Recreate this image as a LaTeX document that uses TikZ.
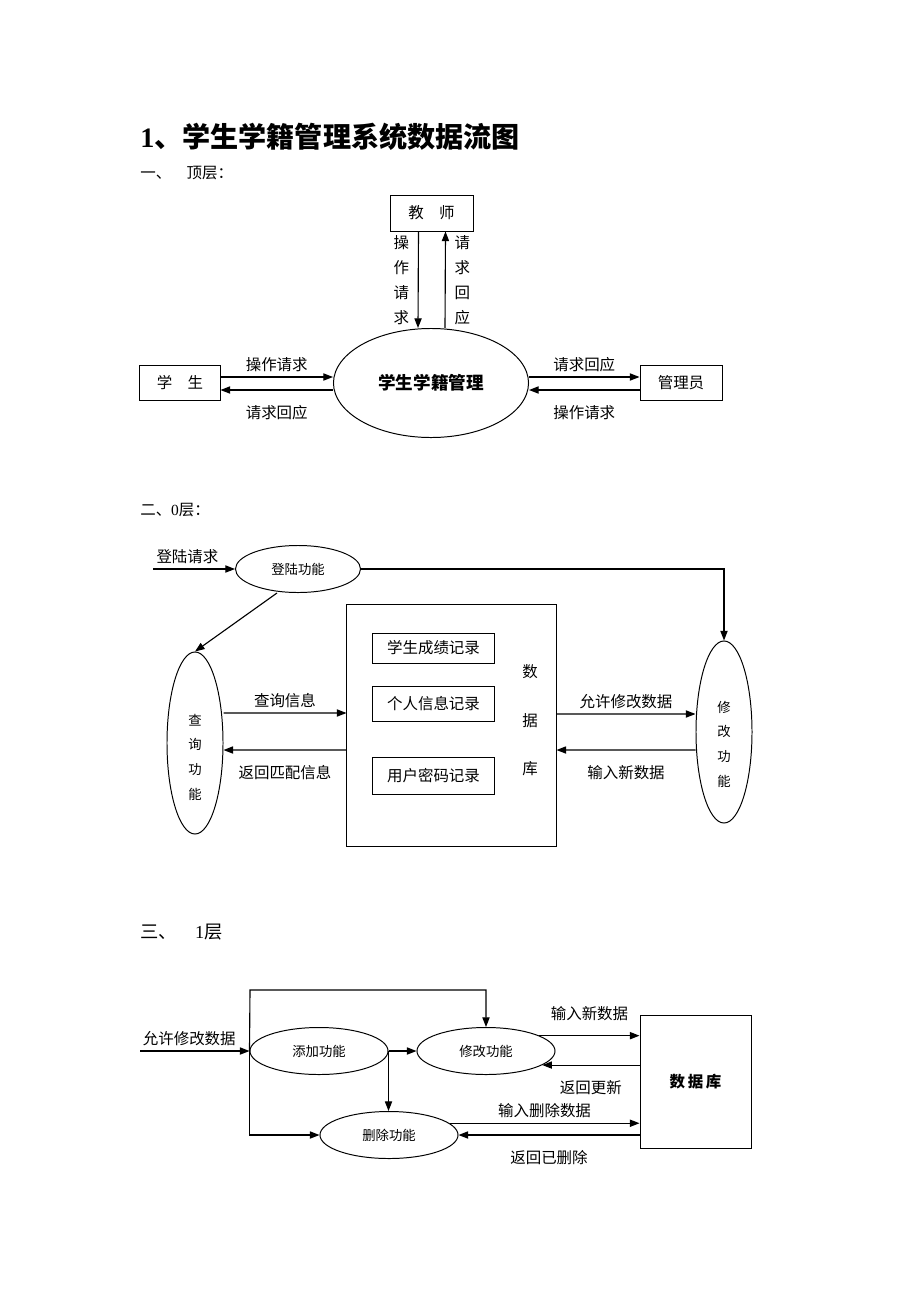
\documentclass[tikz,border=0pt]{standalone}
\usepackage{fontspec}
\setmainfont{Liberation Serif}
\newfontfamily\cjk{Noto Sans CJK SC}
\usepackage{tikz}
\usetikzlibrary{arrows.meta,shapes.geometric}

\tikzset{
  flow/.style={-{Triangle[length=2.4mm,width=1.8mm]},line width=0.8pt},
  proc/.style={ellipse,draw,line width=0.7pt,inner sep=0pt},
  store/.style={rectangle,draw,line width=0.7pt,inner sep=0pt},
  txt/.style={font=\cjk\fontsize{11}{13}\selectfont},
  smalltxt/.style={font=\cjk\fontsize{9.5}{11}\selectfont},
  coltxt/.style={align=center,font=\cjk\fontsize{11}{17.8}\selectfont},
  heading/.style={anchor=west,inner sep=0pt},
}

\begin{document}
\begin{tikzpicture}[x=0.025cm,y=-0.025cm]
\useasboundingbox[fill=white] (0,0) rectangle (920,1302);

\node[heading,font=\cjk\bfseries\fontsize{20}{24}\selectfont] (title) at (140,137) {{\rmfamily 1}、学生学籍管理系统数据流图};
\node[heading,font=\cjk\fontsize{11}{13}\selectfont] (head1) at (140,173) {一、\quad 顶层：};
\node[heading,font=\cjk\fontsize{11}{13}\selectfont] (head2) at (140,510) {二、{\rmfamily 0}层：};
\node[heading,font=\cjk\fontsize{13}{15}\selectfont] (head3) at (140,932) {三、\quad{\rmfamily 1}层};

% top level
\begin{scope}[every node/.style={txt}]
	\node[store,minimum width=2.075cm,minimum height=0.9cm] (teacher) at (431.5,213) {教\quad 师};
	\node[store,minimum width=2cm,minimum height=0.875cm] (student) at (180,383) {学\quad 生};
	\node[store,minimum width=2.05cm,minimum height=0.875cm] (admin) at (681,383) {管理员};
	\node[proc,minimum width=4.875cm,minimum height=2.725cm,font=\cjk\bfseries\fontsize{12.5}{15}\selectfont] (sys) at (431,383) {学生学籍管理};

	\draw[flow] ([xshift=-0.325cm]teacher.south) -- node[left,coltxt,xshift=-0.1cm] (tq) {操\\作\\请\\求} ([xshift=-0.325cm]sys.north);
	\draw[flow] ([xshift=0.35cm]sys.north) -- node[right,coltxt,xshift=0.1cm] (tr) {请\\求\\回\\应} ([xshift=0.35cm]teacher.south);
	\draw[flow] ([yshift=0.15cm]student.east) -- node[above] (sq) {操作请求} ([yshift=0.15cm]sys.west);
	\draw[flow] ([yshift=-0.175cm]sys.west) -- node[below=7pt] (sr) {请求回应} ([yshift=-0.175cm]student.east);
	\draw[flow] ([yshift=0.15cm]sys.east) -- node[above] (ar) {请求回应} ([yshift=0.15cm]admin.west);
	\draw[flow] ([yshift=-0.175cm]admin.west) -- node[below=7pt] (aq) {操作请求} ([yshift=-0.175cm]sys.east);
\end{scope}

% level 0
\begin{scope}[every node/.style={txt}]
	\node[proc,smalltxt,minimum width=3.125cm,minimum height=1.175cm] (login) at (298,569) {登陆功能};
	\coordinate (loginin) at (153,569);
	\node[proc,minimum width=1.4cm,minimum height=4.55cm,
	  label={[coltxt,font=\cjk\fontsize{9.5}{17.5}\selectfont,yshift=-0.35cm]center:{查\\询\\功\\能}}] (query) at (195,743) {};
	\node[proc,minimum width=1.4cm,minimum height=4.55cm,
	  label={[coltxt,font=\cjk\fontsize{9.5}{17.5}\selectfont,yshift=-0.3cm]center:{修\\改\\功\\能}}] (modify) at (724,732) {};
	\node[store,minimum width=5.225cm,minimum height=6.025cm] (db) at (451.5,725.5) {};
	\node[coltxt,font=\cjk\fontsize{11}{34.5}\selectfont] (dbname) at (530,720.5) {数\\据\\库};
	\node[store,minimum width=3.025cm,minimum height=0.75cm] (score) at (433.5,648) {学生成绩记录};
	\node[store,minimum width=3.025cm,minimum height=0.875cm] (info) at (433.5,703.5) {个人信息记录};
	\node[store,minimum width=3.025cm,minimum height=0.925cm] (pwd) at (433.5,775.5) {用户密码记录};

	\draw[flow] (loginin) -- node[above,pos=0.42] (lq) {登陆请求} (login.west);
	\draw[flow] (login.east) -| (modify.north);
	\draw[flow] ([xshift=-0.525cm]login.south) -- (query.north);
	\draw[flow] ([yshift=0.75cm]query.east) -- node[above] (qi) {查询信息} ([yshift=0.3125cm]db.west);
	\draw[flow] ([yshift=-0.6125cm]db.west) -- node[below=7pt] (qr) {返回匹配信息} ([yshift=-0.175cm]query.east);
	\draw[flow] ([yshift=0.2875cm]db.east) -- node[above] (mp) {允许修改数据} ([yshift=0.45cm]modify.west);
	\draw[flow] ([yshift=-0.45cm]modify.west) -- node[below=7pt] (mn) {输入新数据} ([yshift=-0.6125cm]db.east);
\end{scope}

% level 1
\begin{scope}[every node/.style={txt}]
	\node[proc,smalltxt,minimum width=3.45cm,minimum height=1.175cm] (add) at (319,1051) {添加功能};
	\node[proc,smalltxt,minimum width=3.45cm,minimum height=1.175cm] (edit) at (486,1051) {修改功能};
	\node[proc,smalltxt,minimum width=3.45cm,minimum height=1.175cm] (del) at (389,1135) {删除功能};
	\node[store,minimum width=2.775cm,minimum height=3.325cm,font=\cjk\bfseries\fontsize{11}{13}\selectfont] (base) at (695.5,1081.5) {数\,据\,库};
	\coordinate (editin) at (140,1051);
	\coordinate (loop) at (250,990);

	\draw[flow] (editin) -- node[above,pos=0.45] (ep) {允许修改数据} (add.west);
	\draw[flow] (add.west) -- (loop) -| (edit.north);
	\draw[flow] (add.west) |- (del.west);
	\draw[flow] (add.east) -- (edit.west);
	\draw[flow] (add.east) -- (add.east |- del.north);
	\draw[flow] (edit.16) -- node[above=7pt] (en) {输入新数据} (edit.16 -| base.west);
	\draw[flow] (edit.346 -| base.west) -- node[below=7pt] (eu) {返回更新} (edit.346);
	\draw[flow] (del.11) -- node[above] (dn) {输入删除数据} (del.11 -| base.west);
	\draw[flow] (del.east -| base.west) -- node[below=7pt] (dr) {返回已删除} (del.east);
\end{scope}
\end{tikzpicture}
\end{document}
